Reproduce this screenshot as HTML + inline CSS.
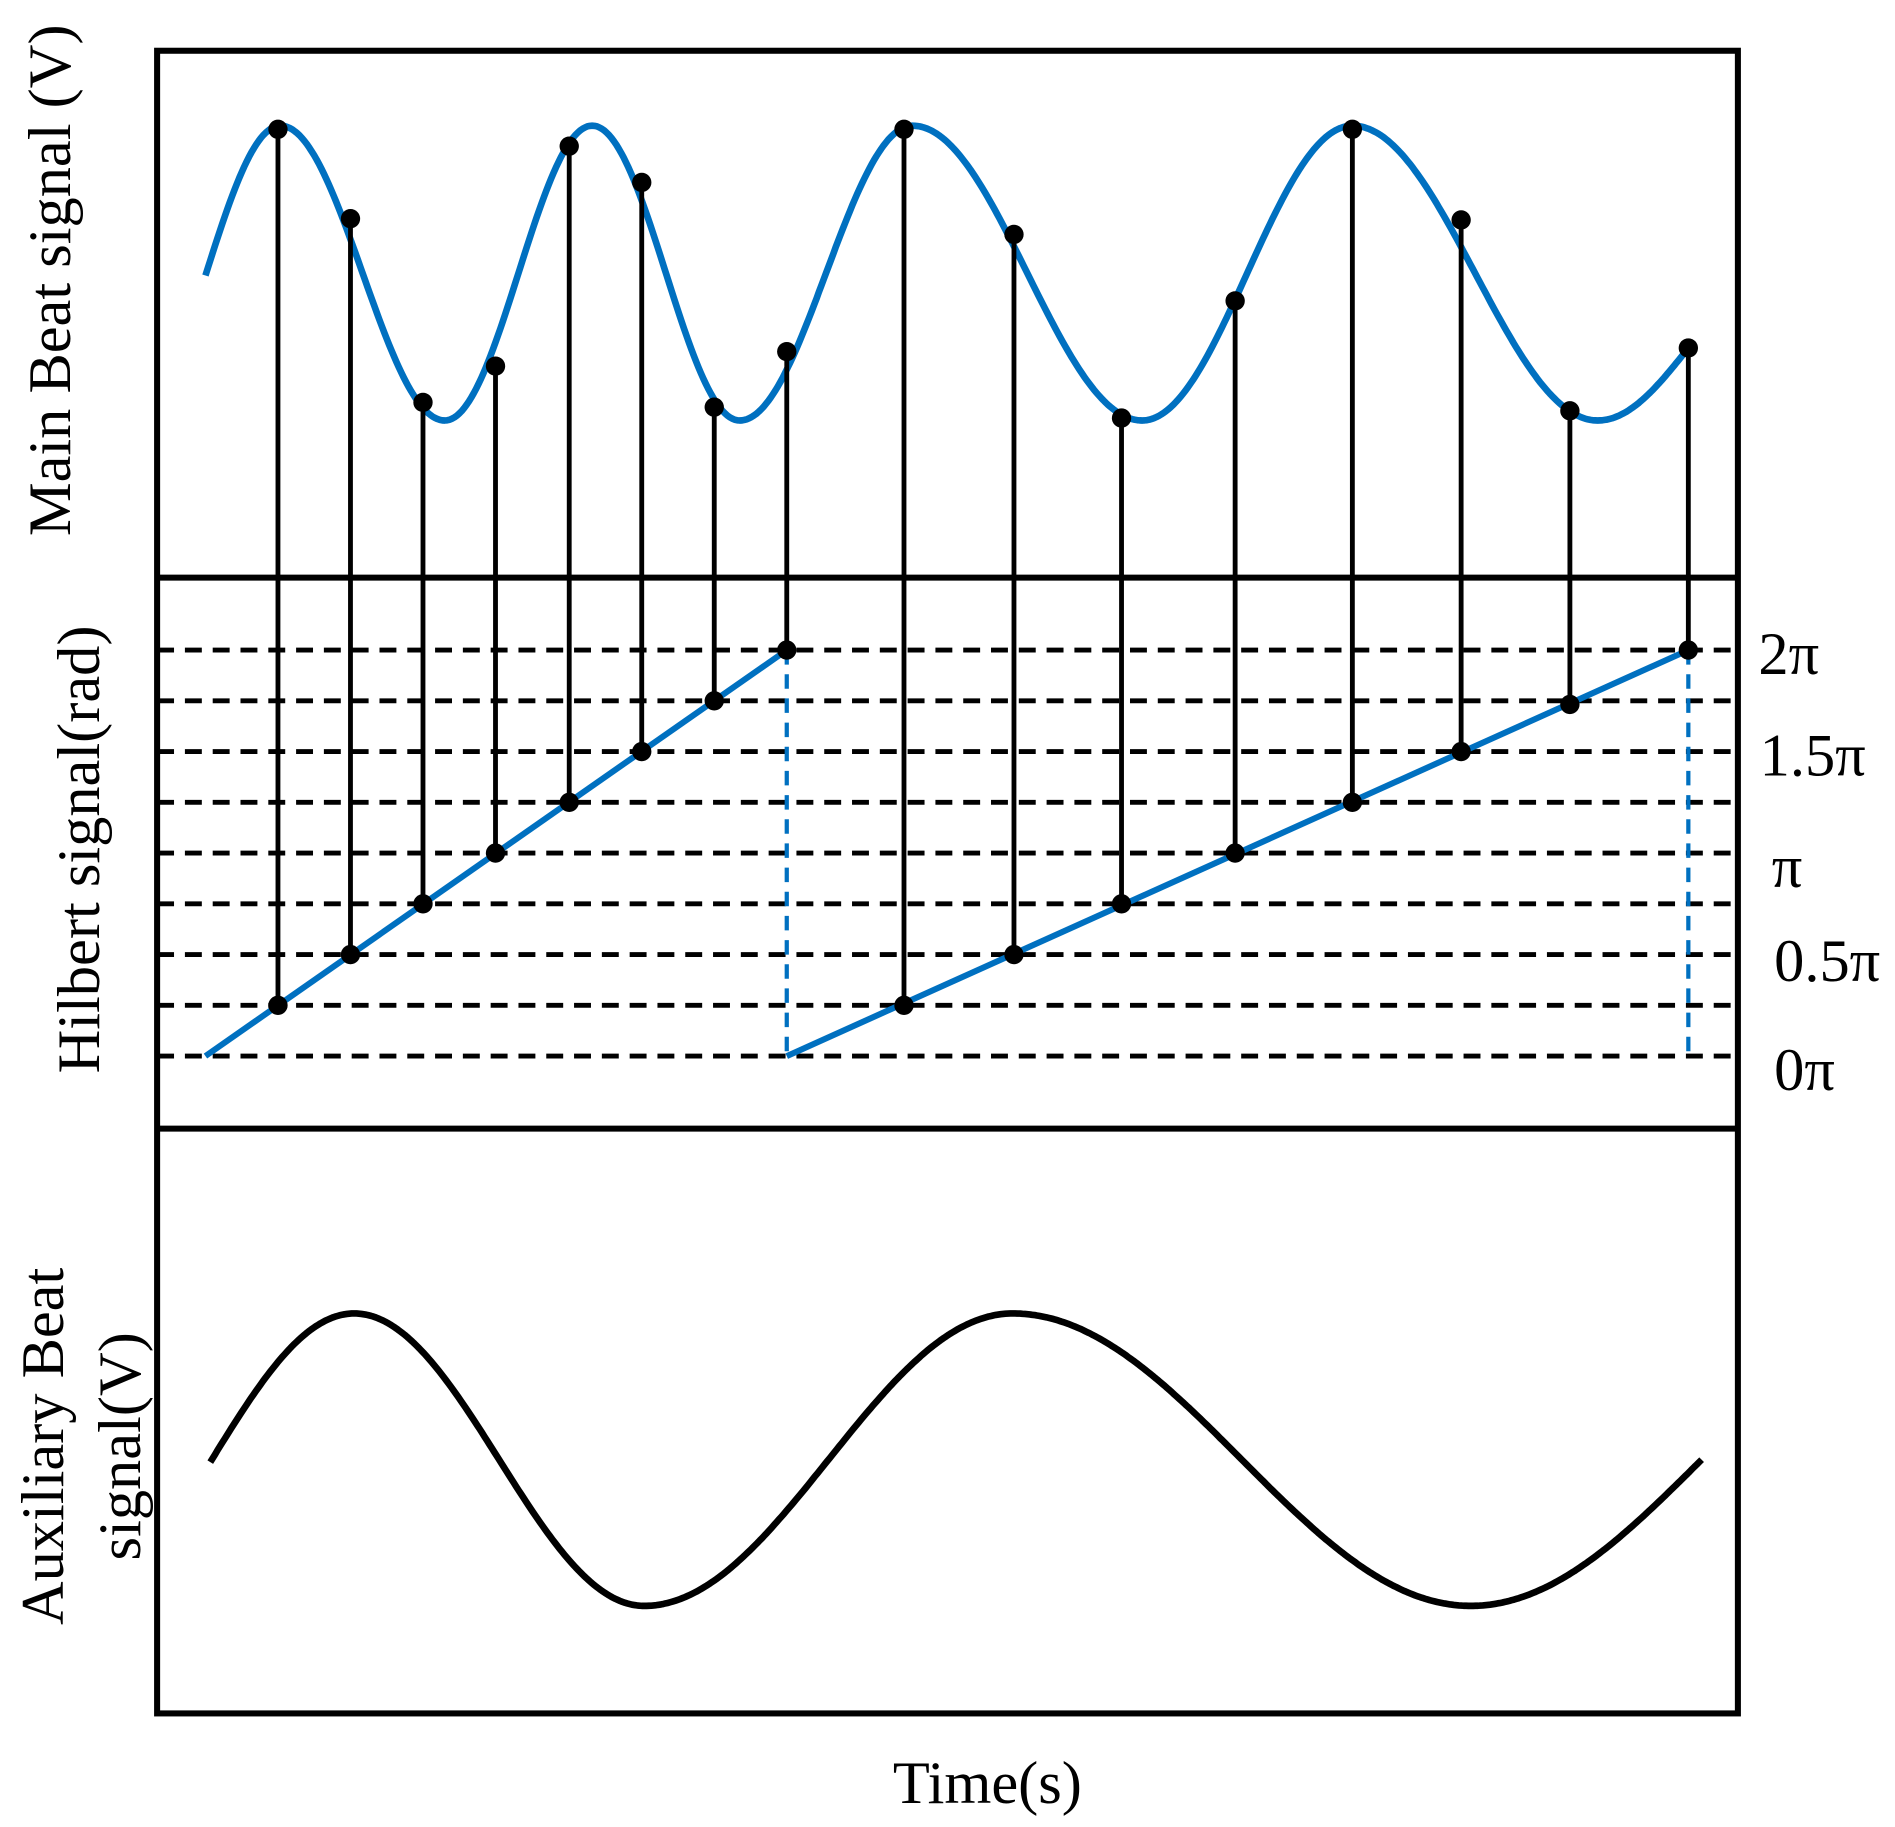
<!DOCTYPE html>
<html><head><meta charset="utf-8"><style>
html,body{margin:0;padding:0;background:#fff;}
svg{display:block;}
text{font-family:"Liberation Serif",serif;fill:#000;}
</style></head><body>
<svg id="s" width="1895" height="1827" viewBox="0 0 1568 1512" preserveAspectRatio="none" xmlns="http://www.w3.org/2000/svg">
<rect x="0" y="0" width="1568" height="1512" fill="#fff"/>
<g stroke="#000" stroke-width="4" stroke-dasharray="14,9" fill="none">
<line x1="130" y1="538" x2="1438" y2="538"/>
<line x1="130" y1="580" x2="1438" y2="580"/>
<line x1="130" y1="622" x2="1438" y2="622"/>
<line x1="130" y1="664" x2="1438" y2="664"/>
<line x1="130" y1="706" x2="1438" y2="706"/>
<line x1="130" y1="748" x2="1438" y2="748"/>
<line x1="130" y1="790" x2="1438" y2="790"/>
<line x1="130" y1="832" x2="1438" y2="832"/>
<line x1="130" y1="874" x2="1438" y2="874"/>
</g>
<g stroke="#0070C0" stroke-width="5" fill="none">
<line x1="170" y1="874" x2="651" y2="538"/>
<line x1="651" y1="874" x2="1397" y2="538"/>
<line x1="651" y1="538" x2="651" y2="874" stroke-dasharray="12,8" stroke-width="3.5"/>
<line x1="1397" y1="538" x2="1397" y2="874" stroke-dasharray="12,8" stroke-width="3.5"/>
<polyline id="blue" stroke-width="5.5" stroke-linejoin="round"/>
</g>
<polyline id="blk" stroke="#000" stroke-width="5.5" fill="none" stroke-linejoin="round"/>
<g id="stems" stroke="#000" stroke-width="4"></g>
<g id="dots" fill="#000"></g>
<rect x="130" y="42" width="1308" height="1376" fill="none" stroke="#000" stroke-width="5"/>
<line x1="130" y1="478" x2="1438" y2="478" stroke="#000" stroke-width="5"/>
<line x1="130" y1="934" x2="1438" y2="934" stroke="#000" stroke-width="5"/>
<g font-size="50">
<text x="1455" y="558">2π</text>
<text x="1456" y="642">1.5π</text>
<text x="1466" y="734">π</text>
<text x="1468" y="812">0.5π</text>
<text x="1468" y="902">0π</text>
<text x="817" y="1492" text-anchor="middle">Time(s)</text>
<text transform="translate(58,232) rotate(-90)" text-anchor="middle">Main Beat signal (V)</text>
<text transform="translate(82,703) rotate(-90)" text-anchor="middle">Hilbert signal(rad)</text>
<text transform="translate(52,1197) rotate(-90)" text-anchor="middle">Auxiliary Beat</text>
<text transform="translate(116,1197) rotate(-90)" text-anchor="middle">signal(V)</text>
</g>
</svg>
<script>
function wave(p){let out=[];const n=p.length;for(let i=0;i<n-1;i++){const [x0,y0]=p[i],[x1,y1]=p[i+1];const steps=Math.max(10,Math.round((x1-x0)/2));for(let k=0;k<=steps;k++){if(i>0&&k==0)continue;const t=k/steps;let f;if(i==0)f=Math.sin(Math.PI/2*t);else if(i==n-2)f=1-Math.cos(Math.PI/2*t);else f=(1-Math.cos(Math.PI*t))/2;out.push((x0+(x1-x0)*t).toFixed(1)+","+(y0+(y1-y0)*f).toFixed(1));}}return out.join(" ");}
document.getElementById("blue").setAttribute("points",wave([[170,228],[232,104],[368,348],[490,104],[612,348],[755,104],[945,348],[1119,104],[1322,348],[1397,288]]));
document.getElementById("blk").setAttribute("points",wave([[174,1210],[293,1087],[533,1329],[838,1087],[1217,1329],[1408,1208]]));
const st=[[230,107,832],[290,181,790],[350,333,748],[410,303,706],[471,121,664],[531,151,622],[591,337,580],[651,291,538],[748,107,832],[839,194,790],[928,346,748],[1022,249,706],[1119,107,664],[1209,182,622],[1299,340,583],[1397,288,538]];
const ns="http://www.w3.org/2000/svg";let S=document.getElementById("stems"),D=document.getElementById("dots");
st.forEach(([x,a,b])=>{let l=document.createElementNS(ns,"line");l.setAttribute("x1",x);l.setAttribute("x2",x);l.setAttribute("y1",a);l.setAttribute("y2",b);S.appendChild(l);
[a,b].forEach(y=>{let c=document.createElementNS(ns,"circle");c.setAttribute("cx",x);c.setAttribute("cy",y);c.setAttribute("r",8);D.appendChild(c);});});
</script>
</body></html>
